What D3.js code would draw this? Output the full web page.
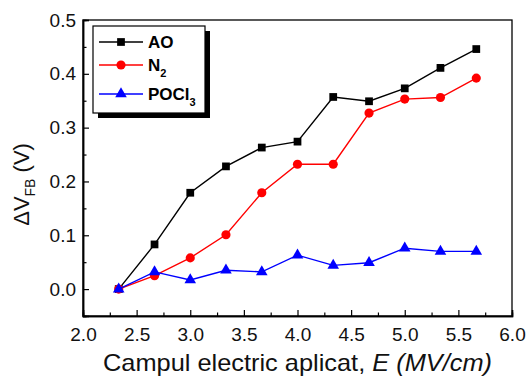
<!DOCTYPE html>
<html>
<head>
<meta charset="utf-8">
<script src="https://cdn.jsdelivr.net/npm/d3@7"></script>
<style>
body { margin: 0; background: #fff; }
text { font-family: Arial, "Liberation Sans", sans-serif; }
</style>
</head>
<body>
<div class="chart"></div>
<script>
const fields = [2.333, 2.667, 3.0, 3.333, 3.667, 4.0, 4.333, 4.667, 5.0, 5.333, 5.667]
const ao = [0, 0.083, 0.179, 0.228, 0.263, 0.274, 0.357, 0.349, 0.373, 0.411, 0.446]
const n2 = [0, 0.025, 0.058, 0.101, 0.179, 0.232, 0.232, 0.327, 0.353, 0.356, 0.392]
const pocl3 = [0, 0.032, 0.017, 0.035, 0.032, 0.063, 0.044, 0.049, 0.076, 0.070, 0.070]
const xTicks = [2.0, 2.5, 3.0, 3.5, 4.0, 4.5, 5.0, 5.5, 6.0]
const yTicks = [0.0, 0.1, 0.2, 0.3, 0.4, 0.5]

const series = [
    {name: "AO", sub: "", values: ao, color: "#000", shape: d3.symbolSquare, size: 60},
    {name: "N", sub: "2", values: n2, color: "#ff0000", shape: d3.symbolCircle, size: 66},
    {name: "POCl", sub: "3", values: pocl3, color: "#0000ff", shape: d3.symbolTriangle, size: 58}
]

const margin = {top: 20, right: 16, bottom: 60, left: 83}
const width = 528 - margin.left - margin.right
const height = 376 - margin.top - margin.bottom

const svg = d3.select(".chart").append("svg")
        .attr("width", 528)
        .attr("height", 376)
    .append("g")
        .attr("transform", `translate(${margin.left},${margin.top})`)

const xScale = d3.scaleLinear().domain([2.0, 6.0]).range([0, width])
const yScale = d3.scaleLinear().domain([-0.05, 0.5]).range([height, 0])

// frame
svg.append("rect")
    .attr("width", width).attr("height", height)
    .attr("fill", "none").attr("stroke", "#000").attr("stroke-width", 1.3)

// minor ticks
const xMinor = d3.axisBottom(xScale).tickValues(d3.range(2.25, 6, 0.5)).tickSize(-3.5).tickFormat("")
const yMinor = d3.axisLeft(yScale).tickValues(d3.range(-0.05, 0.5, 0.1)).tickSize(-3.5).tickFormat("")
svg.append("g").attr("transform", `translate(0,${height})`).call(xMinor)
svg.append("g").call(yMinor)

const xAxis = d3.axisBottom(xScale).tickValues(xTicks).tickSize(-6).tickPadding(12).tickFormat(d3.format(".1f"))
const yAxis = d3.axisLeft(yScale).tickValues(yTicks).tickSize(-6).tickPadding(8).tickFormat(d3.format(".1f"))

const xGroup = svg.append("g").attr("transform", `translate(0,${height})`).call(xAxis)
const yGroup = svg.append("g").call(yAxis)

svg.selectAll(".domain").attr("stroke-width", 1.5)
svg.selectAll(".tick line").attr("stroke-width", 1.2)
svg.selectAll(".tick text").attr("font-size", 19).attr("fill", "#111")
svg.selectAll(".tick text").attr("font-family", "Arial, 'Liberation Sans', sans-serif")
yGroup.selectAll(".tick text").attr("dx", "1px")

// lines and markers
const line = d3.line()
    .x((d, i) => xScale(fields[i]))
    .y(d => yScale(d))

series.forEach(s => {
    svg.append("path")
        .datum(s.values)
        .attr("fill", "none")
        .attr("stroke", s.color)
        .attr("stroke-width", 1.4)
        .attr("d", line)
    svg.selectAll(null)
        .data(s.values)
        .join("path")
        .attr("transform", (d, i) => `translate(${xScale(fields[i])},${yScale(d)})`)
        .attr("d", d3.symbol(s.shape, s.size))
        .attr("fill", s.color)
})

// legend
const legend = svg.append("g").attr("transform", "translate(10,6)")
const lw = 112, lh = 87
legend.append("rect").attr("x", 5).attr("y", 5).attr("width", lw).attr("height", lh).attr("fill", "#000")
legend.append("rect").attr("width", lw).attr("height", lh).attr("fill", "#fff").attr("stroke", "#000").attr("stroke-width", 1.2)

const rowY = [16, 39, 68]
series.forEach((s, i) => {
    const g = legend.append("g").attr("transform", `translate(0,${rowY[i]})`)
    g.append("line").attr("x1", 6).attr("x2", 50).attr("stroke", s.color).attr("stroke-width", 1.4)
    g.append("path").attr("transform", "translate(28,0)").attr("d", d3.symbol(s.shape, s.size)).attr("fill", s.color)
    const t = g.append("text").attr("x", 55).attr("y", 6)
        .attr("font-size", 17).attr("font-weight", "bold")
    t.append("tspan").text(s.name)
    if (s.sub) t.append("tspan").attr("font-size", 11).attr("dy", 6).text(s.sub)
})

// axis labels
svg.append("text")
    .attr("x", 103 - margin.left)
    .attr("y", height + 55)
    .attr("font-size", 24)
    .attr("textLength", 389)
    .attr("lengthAdjust", "spacingAndGlyphs")
    .attr("fill", "#111")
    .call(t => {
        t.append("tspan").text("Campul electric aplicat, ")
        t.append("tspan").attr("font-style", "italic").text("E (MV/cm)")
    })

const yLabel = svg.append("text")
    .attr("transform", `translate(${29 - margin.left},${yScale(0.2) + 3}) rotate(-90)`)
    .attr("text-anchor", "middle")
    .attr("font-size", 22)
    .attr("fill", "#111")
yLabel.append("tspan").text("ΔV")
yLabel.append("tspan").attr("font-size", 14).attr("dy", 6).text("FB")
yLabel.append("tspan").attr("dy", -6).text(" (V)")
</script>
</body>
</html>
